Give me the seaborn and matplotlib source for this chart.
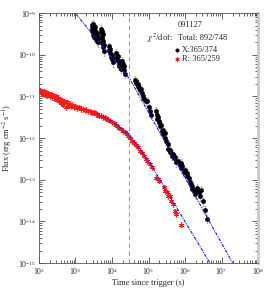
import numpy as np
import pandas as pd
import seaborn as sns
import matplotlib.pyplot as plt
from matplotlib.ticker import LogLocator, NullFormatter

# -------------------------------
# Data (log10 values)
# -------------------------------
# X-ray light curve: log10(time [s]), log10(flux)
x_logt = [3.45, 3.46, 3.46, 3.48, 3.48, 3.49, 3.49, 3.51, 3.51, 3.52, 3.52, 3.53, 3.54, 3.54,
          3.56, 3.57, 3.58, 3.59, 3.60, 3.61, 3.62,
          3.70, 3.71, 3.72, 3.72, 3.73, 3.74, 3.75, 3.76, 3.76, 3.77, 3.78,
          3.92, 3.93, 3.95, 3.96, 3.98, 3.99, 4.00, 4.02, 4.03,
          4.11, 4.13, 4.15, 4.16, 4.18, 4.19, 4.20, 4.23, 4.25,
          4.28, 4.30, 4.31, 4.32, 4.34, 4.36,
          4.63, 4.65, 4.67, 4.70, 4.72, 4.75, 4.78, 4.80, 4.83, 4.86, 4.89, 4.93, 4.96, 5.00,
          5.04, 5.08,
          5.20, 5.23, 5.24, 5.26, 5.28, 5.30, 5.32, 5.34, 5.37,
          5.40, 5.41, 5.45, 5.46, 5.49, 5.52,
          5.54, 5.58, 5.60, 5.63, 5.66, 5.70, 5.73, 5.76,
          5.81, 5.85, 5.88, 5.90, 5.93, 5.97, 6.00, 6.04,
          6.06, 6.10, 6.13, 6.16,
          6.18, 6.20, 6.24, 6.28, 6.30,
          6.34, 6.38, 6.41, 6.45, 6.48,
          6.55, 6.60]
x_logf = [-9.28, -9.35, -9.44, -9.25, -9.52, -9.32, -9.40, -9.30, -9.48, -9.37, -9.57, -9.42, -9.34, -9.51,
          -9.62, -9.46, -9.54, -9.66, -9.50, -9.70, -9.59,
          -9.38, -9.46, -9.54, -9.42, -9.62, -9.72, -9.51, -9.82, -9.68, -9.91, -9.77,
          -9.80, -9.89, -9.96, -9.85, -10.05, -10.00, -10.11, -10.07, -10.18,
          -9.96, -10.05, -10.12, -10.02, -10.19, -10.15, -10.26, -10.22, -10.34,
          -10.14, -10.22, -10.30, -10.37, -10.27, -10.45,
          -10.60, -10.68, -10.64, -10.74, -10.70, -10.80, -10.85, -10.82, -10.92, -10.98, -11.05, -11.12, -11.10, -11.26,
          -11.35, -11.44,
          -11.35, -11.44, -11.55, -11.49, -11.62, -11.58, -11.72, -11.68, -11.82,
          -11.80, -11.90, -12.00, -11.89, -12.07, -12.15,
          -12.26, -12.34, -12.28, -12.42, -12.38, -12.49, -12.46, -12.58,
          -12.54, -12.64, -12.59, -12.72, -12.68, -12.82, -12.77, -12.90,
          -12.84, -12.96, -13.05, -13.10,
          -13.14, -13.22, -13.28, -13.34, -13.26,
          -13.19, -13.30, -13.40, -13.24, -13.52,
          -13.72, -13.94]
x_relerr = 0.22

# R-band light curve
r_logt = [2.02, 2.05, 2.08, 2.10, 2.13, 2.16, 2.19, 2.22, 2.25, 2.28, 2.31, 2.34, 2.37, 2.40,
          2.43, 2.46, 2.49, 2.52, 2.55, 2.58, 2.61, 2.64, 2.67, 2.70, 2.73, 2.76, 2.79, 2.82,
          2.85, 2.88, 2.92, 2.96, 3.00, 3.05, 3.10, 3.15, 3.20, 3.25, 3.30, 3.35, 3.40, 3.45,
          3.50, 3.55, 3.60, 3.65, 3.70, 3.75, 3.80, 3.85, 3.90, 3.95, 4.00, 4.05, 4.10, 4.15,
          4.20, 4.25, 4.30, 4.35, 4.40, 4.45, 4.50, 4.55, 4.60, 4.65, 4.70,
          4.77, 4.82, 4.87, 4.92, 4.97, 5.05, 5.10,
          5.20, 5.25, 5.30,
          5.42, 5.45, 5.50, 5.53, 5.58, 5.62, 5.66, 5.72, 5.76,
          5.89]
r_logf = [-10.85, -10.92, -10.87, -10.95, -10.88, -10.93, -10.90, -10.98, -10.92, -10.96, -11.00, -10.94, -11.02, -10.97,
          -11.05, -11.00, -11.08, -11.03, -11.10, -11.06, -11.15, -11.09, -11.20, -11.12, -11.25, -11.14, -11.18, -11.22,
          -11.17, -11.24, -11.20, -11.26, -11.23, -11.28, -11.26, -11.31, -11.30, -11.33, -11.32, -11.36, -11.35, -11.39,
          -11.38, -11.42, -11.42, -11.46, -11.46, -11.49, -11.51, -11.53, -11.56, -11.58, -11.62, -11.64, -11.68, -11.71,
          -11.75, -11.78, -11.83, -11.86, -11.91, -11.96, -12.00, -12.06, -12.11, -12.16, -12.22,
          -12.30, -12.36, -12.42, -12.50, -12.55, -12.63, -12.70,
          -12.95, -12.98, -13.02,
          -13.18, -13.28, -13.30, -13.40, -13.38, -13.50, -13.58, -13.75, -13.82,
          -14.08]
r_relerr = 0.14

# broken power-law model curves (vertices)
x_model_logt = [2.90, 4.50, 7.40]
x_model_logf = [-8.90, -10.60, -15.15]
r_model_logt = [3.59, 4.00, 4.47, 5.00, 6.75]
r_model_logf = [-11.40, -11.60, -11.92, -12.54, -15.10]

t_break = 3.0e4
x_ticks = [1e2, 1e3, 1e4, 1e5, 1e6, 1e7, 1e8]
y_ticks = [1e-15, 1e-14, 1e-13, 1e-12, 1e-11, 1e-10, 1e-9]

# -------------------------------
# Build DataFrames
# -------------------------------
xdf = pd.DataFrame({'t': 10 ** np.array(x_logt), 'flux': 10 ** np.array(x_logf)})
rdf = pd.DataFrame({'t': 10 ** np.array(r_logt), 'flux': 10 ** np.array(r_logf)})

# -------------------------------
# Plot
# -------------------------------
sns.set_style("ticks")
plt.rcParams['font.family'] = ['Liberation Serif', 'DejaVu Serif']
plt.rcParams['mathtext.fontset'] = 'stix'

fig = plt.figure(figsize=(2.70, 2.91), dpi=100)
ax = fig.add_axes([0.144, 0.096, 0.812, 0.859])
ax.set_xscale('log')
ax.set_yscale('log')

# error bars
ax.errorbar(xdf['t'], xdf['flux'], yerr=xdf['flux'] * x_relerr, fmt='none',
            ecolor='#a0a0a0', elinewidth=0.5, capsize=1, capthick=0.5, zorder=1)
ax.errorbar(rdf['t'], rdf['flux'], yerr=rdf['flux'] * r_relerr, fmt='none',
            ecolor='#ff4040', elinewidth=0.5, capsize=1, capthick=0.5, zorder=1)

sns.scatterplot(data=xdf, x='t', y='flux', ax=ax, color='black', marker='o', s=10,
                edgecolor='black', linewidth=0.3, label='X:365/374', zorder=3)
sns.scatterplot(data=rdf, x='t', y='flux', ax=ax, color='#ff1a1a', marker=(6, 2, 0), s=9,
                edgecolor='#ff1a1a', linewidth=0.7, label='R: 365/259', zorder=3)

# model lines
ax.plot(10 ** np.array(x_model_logt), 10 ** np.array(x_model_logf), color='#1a1aff',
        linestyle=(0, (3, 1, 1, 1)), linewidth=0.8, zorder=4)
ax.plot(10 ** np.array(r_model_logt), 10 ** np.array(r_model_logf), color='#1a1aff',
        linestyle=(0, (3, 1, 1, 1)), linewidth=0.8, zorder=4)

ax.axvline(t_break, color='#e070e0', linestyle=(0, (4, 3)), linewidth=0.8, zorder=2)

ax.set_xlim(1e2, 1e8)
ax.set_ylim(1e-15, 1e-9)

ax.set_xticks(x_ticks)
ax.set_yticks(y_ticks)
ax.xaxis.set_minor_locator(LogLocator(base=10, subs=np.arange(2, 10), numticks=20))
ax.yaxis.set_minor_locator(LogLocator(base=10, subs=np.arange(2, 10), numticks=20))
ax.xaxis.set_minor_formatter(NullFormatter())
ax.yaxis.set_minor_formatter(NullFormatter())
ax.tick_params(which='both', direction='in', top=True, right=True, labelsize=5.5,
               width=0.5, pad=2)
ax.tick_params(which='major', length=4)
ax.tick_params(which='minor', length=2)

for s in ['left', 'bottom', 'top']:
    ax.spines[s].set_linewidth(0.6)
    ax.spines[s].set_color('#555555')
ax.spines['right'].set_color('#c8c8c8')
ax.spines['right'].set_linewidth(2)

ax.set_xlabel('Time since trigger (s)', fontsize=6)
ax.set_ylabel('Flux (erg cm$^{-2}$ s$^{-1}$)', fontsize=6)
ax.xaxis.set_label_coords(0.5, -0.065)
ax.yaxis.set_label_coords(-0.11, 0.5)

# annotation block
ax.text(0.69, 0.952, '091127', transform=ax.transAxes, fontsize=6, ha='center', va='center')
ax.text(0.495, 0.900, r'$\chi^2$/dof:', transform=ax.transAxes, fontsize=6, ha='left', va='center')
ax.text(0.635, 0.900, 'Total: 892/748', transform=ax.transAxes, fontsize=6, ha='left', va='center')
ax.legend(loc='upper left', bbox_to_anchor=(0.6, 0.885), frameon=False, fontsize=6,
          handlelength=0.6, handletextpad=0.3, borderpad=0, labelspacing=0.15,
          markerscale=0.8)

fig.savefig('out.png', dpi=100)
